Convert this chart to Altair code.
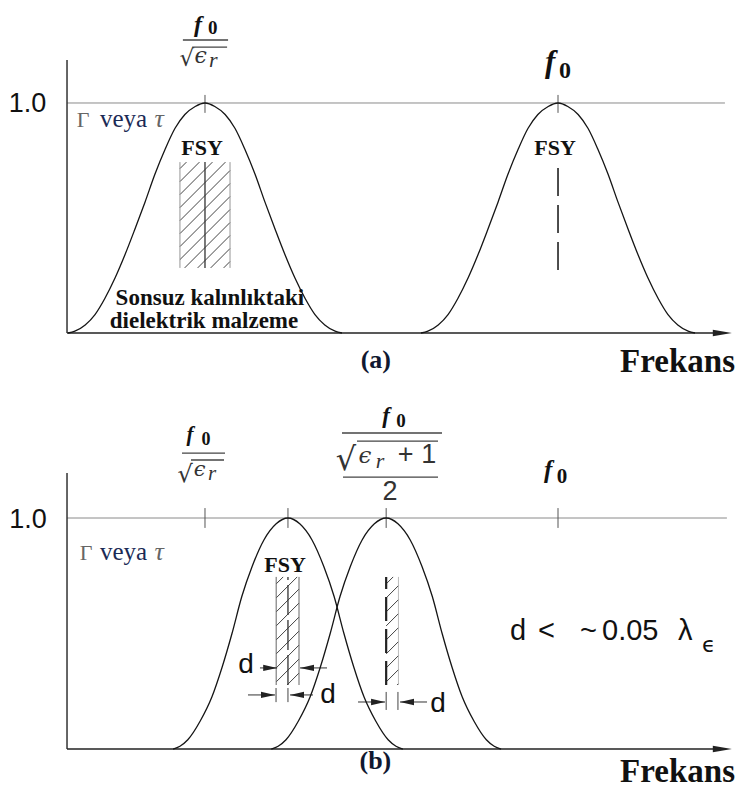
import altair as alt
import pandas as pd

# ---------------- values (frequency normalised to f0) ----------------
PEAKS_A = [0.281, 1.0]            # f0/sqrt(er), f0
PEAKS_B = [0.450, 0.650]
TICKS_A = [0.281, 1.0]
TICKS_B = [0.281, 0.450, 0.650, 1.0]

# bell-shaped response: offset from the peak (f/f0) and level
PROFILE_A_OFFSET = [0.0, 0.020, 0.041, 0.061, 0.081, 0.102, 0.122, 0.143, 0.163, 0.183, 0.204, 0.224, 0.244, 0.265, 0.279]
PROFILE_A_LEVEL = [1.0, 0.985, 0.95, 0.89, 0.80, 0.69, 0.57, 0.45, 0.34, 0.24, 0.15, 0.08, 0.035, 0.008, 0.0]
PROFILE_B_OFFSET = [0.0, 0.024, 0.049, 0.073, 0.094, 0.114, 0.134, 0.155, 0.179, 0.204, 0.220, 0.234]
PROFILE_B_LEVEL = [1.0, 0.975, 0.905, 0.79, 0.66, 0.50, 0.355, 0.225, 0.12, 0.04, 0.012, 0.0]

# FSY slabs: [f start, f end, level low, level high]
SLAB_A = [0.230, 0.332, 0.283, 0.743]
SLAB_B1 = [0.426, 0.4725, 0.277, 0.745]
SLAB_B2 = [0.650, 0.675, 0.277, 0.745]

# thickness arrows in (b)
ARROW_LEVEL = [0.351, 0.234, 0.2035]
ARROW_L_START = [0.393, 0.3686, 0.5927]
ARROW_L_TIP = [0.428, 0.4236, 0.6477]
ARROW_R_TIP = [0.4745, 0.4542, 0.6782]
ARROW_R_END = [0.5295, 0.501, 0.7332]
EXT_TICK_U = [0.4257, 0.450, 0.650, 0.674]
EXT_TICK_V0 = [0.203, 0.203, 0.169, 0.169]
EXT_TICK_V1 = [0.264, 0.264, 0.247, 0.247]

# ---------------- layout ----------------
W, HA, HB = 728, 372, 408
XD = [-0.1202, 1.3625]
YAD = [-0.2043, 1.4130]
YBD = [-0.1688, 1.5974]
KX = W / (XD[1] - XD[0])
KYA = HA / (YAD[1] - YAD[0])
KYB = HB / (YBD[1] - YBD[0])

SER, SAN, DJS, DJR = "Liberation Serif", "Liberation Sans", "DejaVu Sans", "DejaVu Serif"
BLK, NAVY, GRY = "#111111", "#1b2a55", "#666666"
N, B, I = "normal", "bold", "italic"
C, L, R = "center", "left", "right"

TEXT_A = [
    (0.267, 1.309, "f", 24, BLK, SER, B, I, C),
    (0.297, 1.300, "0", 19, BLK, SER, B, N, C),
    (0.244, 1.161, "√", 23, "#333333", DJS, N, N, C),
    (0.272, 1.174, "ϵ", 22, "#333333", DJR, N, I, C),
    (0.298, 1.157, "r", 22, "#333333", SER, N, I, C),
    (0.984, 1.135, "f", 31, BLK, SER, B, I, C),
    (1.014, 1.109, "0", 24, BLK, SER, B, N, C),
    (-0.0804, 0.961, "1.0", 27, BLK, SAN, N, N, C),
    (0.0326, 0.896, "Γ", 22, GRY, SER, N, N, C),
    (0.0672, 0.896, "veya", 25, NAVY, SER, N, N, L),
    (0.1875, 0.896, "τ", 26, GRY, SER, N, I, C),
    (0.275, 0.774, "FSY", 22, BLK, SER, B, N, C),
    (0.994, 0.774, "FSY", 22, BLK, SER, B, N, C),
    (0.291, 0.122, "Sonsuz kalınlıktaki", 23, BLK, SER, B, N, C),
    (0.279, 0.022, "dielektrik malzeme", 23, BLK, SER, B, N, C),
    (0.629, -0.150, "(a)", 26, "#101830", SER, B, N, C),
    (1.3605, -0.1696, "Frekans", 33, BLK, SER, B, N, R),
]

TEXT_B = [
    (0.2505, 1.333, "f", 21, BLK, SER, B, I, C),
    (0.283, 1.316, "0", 18, BLK, SER, B, N, C),
    (0.2404, 1.156, "√", 24, "#333333", DJS, N, N, C),
    (0.2699, 1.182, "ϵ", 21, "#333333", DJR, N, I, C),
    (0.2954, 1.165, "r", 21, "#333333", SER, N, I, C),
    (0.6497, 1.411, "f", 23, BLK, SER, B, I, C),
    (0.680, 1.394, "0", 19, BLK, SER, B, N, C),
    (0.568, 1.208, "√", 32, "#333333", DJS, N, N, C),
    (0.6069, 1.238, "ϵ", 23, "#333333", DJR, N, I, C),
    (0.6375, 1.216, "r", 22, "#333333", SER, N, I, C),
    (0.7128, 1.238, "+ 1", 27, "#333333", SAN, N, N, C),
    (0.658, 1.078, "2", 27, "#333333", SAN, N, N, C),
    (0.980, 1.173, "f", 25, BLK, SER, B, I, C),
    (1.008, 1.152, "0", 21, BLK, SER, B, N, C),
    (-0.0794, 0.957, "1.0", 27, BLK, SAN, N, N, C),
    (0.0387, 0.818, "Γ", 22, GRY, SER, N, N, C),
    (0.0672, 0.818, "veya", 25, NAVY, SER, N, N, L),
    (0.1875, 0.818, "τ", 26, GRY, SER, N, I, C),
    (0.444, 0.766, "FSY", 22, BLK, SER, B, N, C),
    (0.3646, 0.329, "d", 28, BLK, SAN, N, N, C),
    (0.5316, 0.199, "d", 28, BLK, SAN, N, N, C),
    (0.7556, 0.160, "d", 28, BLK, SAN, N, N, C),
    (0.9022, 0.472, "d", 29, BLK, SAN, N, N, L),
    (0.9593, 0.472, "<", 29, BLK, SAN, N, N, L),
    (1.0448, 0.472, "~", 29, BLK, SAN, N, N, L),
    (1.0896, 0.472, "0.05", 29, BLK, SAN, N, N, L),
    (1.2444, 0.472, "λ", 29, BLK, SAN, N, N, L),
    (1.2933, 0.420, "ϵ", 22, BLK, DJS, N, N, L),
    (0.628, -0.087, "(b)", 26, "#101830", SER, B, N, C),
    (1.3605, -0.143, "Frekans", 33, BLK, SER, B, N, R),
]

# fraction bars and square-root overlines: (u start, u end, level)
BARS_A = [(0.236, 0.328, 1.274), (0.255, 0.326, 1.243)]
BARS_B = [(0.2342, 0.3218, 1.281), (0.560, 0.7637, 1.368), (0.5621, 0.7556, 1.177),
          (0.2525, 0.3198, 1.251), (0.5906, 0.7556, 1.333)]

AXIS_TOP_A, AXIS_TOP_B = 1.187, 1.195
REF_END_A, REF_END_B = 1.340, 1.344
ARROW_TIP = 1.354


def scales(ydom):
    xs = alt.Scale(domain=XD, nice=False, zero=False)
    ys = alt.Scale(domain=ydom, nice=False, zero=False)
    X = lambda f: alt.X(f, type="quantitative", scale=xs, axis=None)
    Y = lambda f: alt.Y(f, type="quantitative", scale=ys, axis=None)
    return X, Y


def rules(rows, X, Y, color, width, dash=None):
    df = pd.DataFrame(rows, columns=["u", "u2", "v", "v2"])
    kw = dict(color=color, strokeWidth=width)
    if dash:
        kw["strokeDash"] = dash
    return alt.Chart(df).mark_rule(**kw).encode(x=X("u"), x2=alt.X2("u2"), y=Y("v"), y2=alt.Y2("v2"))


def bells(centers, offs, levels, X, Y):
    rows = []
    for k, c in enumerate(centers):
        for o, l in zip(reversed(offs[1:]), reversed(levels[1:])):
            rows.append((k, c - o, l))
        for o, l in zip(offs, levels):
            rows.append((k, c + o, l))
    df = pd.DataFrame(rows, columns=["k", "u", "v"])
    return alt.Chart(df).mark_line(color="#151515", strokeWidth=1.3, interpolate="monotone").encode(
        x=X("u"), y=Y("v"), detail="k:N")


def hatch(slab, ky, step):
    u0, u1, v0, v1 = slab
    X0, X1, Y0, Y1 = u0 * KX, u1 * KX, v0 * ky, v1 * ky
    rows = []
    c = X0 - Y1 + step * 0.5
    while c < X1 - Y0:
        xs, xe = max(X0, Y0 + c), min(X1, Y1 + c)
        if xe > xs:
            rows.append((xs / KX, xe / KX, (xs - c) / ky, (xe - c) / ky))
        c += step
    return rows


def texts(rows, X, Y):
    df = pd.DataFrame(rows, columns=["u", "v", "t", "s", "c", "font", "weight", "style", "align"])
    out = []
    for key, g in df.groupby(["font", "weight", "style", "align"], sort=False):
        font, weight, style, align = key
        out.append(alt.Chart(g[["u", "v", "t", "s", "c"]].reset_index(drop=True)).mark_text(
            font=font, fontWeight=weight, fontStyle=style, align=align, baseline="alphabetic").encode(
            x=X("u"), y=Y("v"), text=alt.Text("t:N"),
            size=alt.Size("s:Q", scale=None, legend=None),
            color=alt.Color("c:N", scale=None, legend=None)))
    return out


def heads(us, vs, X, Y, shape, size, color="#222222"):
    df = pd.DataFrame({"u": us, "v": vs})
    return alt.Chart(df).mark_point(shape=shape, size=size, filled=True, color=color, opacity=1,
                                     strokeWidth=0).encode(x=X("u"), y=Y("v"))


RIGHT_HEAD_AXIS = "M-2,-0.35L0,0L-2,0.35Z"
RIGHT_HEAD = "M-2,-0.45L0,0L-2,0.45Z"
LEFT_HEAD = "M2,-0.45L0,0L2,0.45Z"

# ---------------- panel (a) ----------------
XA, YA = scales(YAD)
layers_a = [
    rules([(0, REF_END_A, 1, 1)], XA, YA, "#8a8a8a", 1),
    rules([(0, 0, 0, AXIS_TOP_A)], XA, YA, "#333333", 1.5),
    rules([(0, ARROW_TIP - 0.02, 0, 0)], XA, YA, "#222222", 1.5),
    heads([ARROW_TIP], [0], XA, YA, RIGHT_HEAD_AXIS, 361),
    rules([(t, t, 0.957, 1.035) for t in TICKS_A], XA, YA, "#555555", 1),
    rules(hatch(SLAB_A, KYA, 13), XA, YA, "#444444", 1),
    rules([(SLAB_A[0], SLAB_A[0], SLAB_A[2], SLAB_A[3]), (SLAB_A[1], SLAB_A[1], SLAB_A[2], SLAB_A[3])],
          XA, YA, "#8a8a8a", 0.9),
    rules([(PEAKS_A[0], PEAKS_A[0], SLAB_A[2], SLAB_A[3])], XA, YA, "#333333", 1.3),
    rules([(PEAKS_A[1], PEAKS_A[1], 0.274, 0.743)], XA, YA, "#222222", 1.6, [28, 9]),
    bells(PEAKS_A, PROFILE_A_OFFSET, PROFILE_A_LEVEL, XA, YA),
    rules([(a, b, v, v) for a, b, v in BARS_A], XA, YA, "#444444", 1.4),
] + texts(TEXT_A, XA, YA)

# ---------------- panel (b) ----------------
XB, YB = scales(YBD)
layers_b = [
    rules([(0, REF_END_B, 1, 1)], XB, YB, "#8a8a8a", 1),
    rules([(0, 0, 0, AXIS_TOP_B)], XB, YB, "#333333", 1.5),
    rules([(0, ARROW_TIP - 0.02, 0, 0)], XB, YB, "#222222", 1.5),
    heads([ARROW_TIP], [0], XB, YB, RIGHT_HEAD_AXIS, 361),
    rules([(t, t, 0.957, 1.043) for t in TICKS_B], XB, YB, "#555555", 1),
    rules(hatch(SLAB_B1, KYB, 14) + hatch(SLAB_B2, KYB, 14), XB, YB, "#444444", 1),
    rules([(SLAB_B1[0], SLAB_B1[0], SLAB_B1[2], SLAB_B1[3]), (SLAB_B1[1], SLAB_B1[1], SLAB_B1[2], SLAB_B1[3])],
          XB, YB, "#666666", 1),
    rules([(SLAB_B2[1], SLAB_B2[1], SLAB_B2[2], SLAB_B2[3])], XB, YB, "#aaaaaa", 0.8),
    rules([(PEAKS_B[0], PEAKS_B[0], SLAB_B1[2], SLAB_B1[3])], XB, YB, "#333333", 1.3, [30, 5]),
    rules([(PEAKS_B[1], PEAKS_B[1], SLAB_B2[2], SLAB_B2[3])], XB, YB, "#222222", 2.2, [24, 8]),
    rules([(a, b, v, v) for a, b, v in zip(ARROW_L_START, ARROW_L_TIP, ARROW_LEVEL)] +
          [(a, b, v, v) for a, b, v in zip(ARROW_R_TIP, ARROW_R_END, ARROW_LEVEL)], XB, YB, "#333333", 1),
    rules([(u, u, a, b) for u, a, b in zip(EXT_TICK_U, EXT_TICK_V0, EXT_TICK_V1)], XB, YB, "#444444", 1),
    heads(ARROW_L_TIP, ARROW_LEVEL, XB, YB, RIGHT_HEAD, 196),
    heads(ARROW_R_TIP, ARROW_LEVEL, XB, YB, LEFT_HEAD, 196),
    bells(PEAKS_B, PROFILE_B_OFFSET, PROFILE_B_LEVEL, XB, YB),
    rules([(a, b, v, v) for a, b, v in BARS_B], XB, YB, "#444444", 1.4),
] + texts(TEXT_B, XB, YB)

pa = alt.layer(*layers_a).properties(width=W, height=HA)
pb = alt.layer(*layers_b).properties(width=W, height=HB)

chart = alt.vconcat(pa, pb, spacing=0, bounds="flush").properties(padding=0).configure_view(strokeWidth=0)
chart.save("out.html", embed_options={"renderer": "svg", "actions": False})
